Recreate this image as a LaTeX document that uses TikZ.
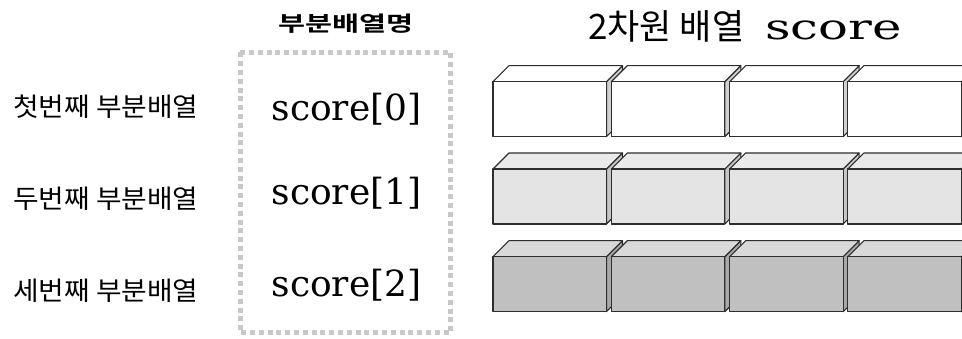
\documentclass[tikz,border=0pt]{standalone}
\usepackage{fontspec}
\newfontfamily\krfont{Noto Sans CJK KR}
\newfontfamily\krlabel[FakeStretch=1.07]{Noto Sans CJK KR}
\newfontfamily\krhead[FakeStretch=1.4,BoldFont={Noto Sans CJK KR Bold}]{Noto Sans CJK KR}
\newfontfamily\codefont{DejaVu Serif}
\newfontfamily\codewide[FakeStretch=1.42]{DejaVu Serif}

\definecolor{framegray}{HTML}{C8C8C8}
\definecolor{edge}{HTML}{2E2E2E}
\definecolor{sideA}{HTML}{D0D0D0}
\definecolor{frontB}{HTML}{E4E4E4}
\definecolor{topB}{HTML}{EAEAEA}
\definecolor{sideB}{HTML}{C6C6C6}
\definecolor{frontC}{HTML}{C0C0C0}
\definecolor{topC}{HTML}{D9D9D9}
\definecolor{sideC}{HTML}{A8A8A8}

\tikzset{
  cubeline/.style={draw=edge, line width=1.1pt, line join=round},
  rowlabel/.style={font=\krlabel\fontsize{26}{30}\selectfont, inner sep=0pt, anchor=west},
  elemname/.style={font=\codefont\fontsize{36}{40}\selectfont, inner sep=0pt, anchor=base},
  headtext/.style={font=\krhead\bfseries\fontsize{21}{24}\selectfont, inner sep=0pt},
  subframe/.style={draw=framegray, line width=5pt, dash pattern=on 5pt off 3.8pt},
}

% one element of the array drawn as a box: left x, front top y, front / top / side fills
\newcommand{\arraycell}[5]{%
  \filldraw[cubeline, fill=#5] (#1+113.5,#2) -- ++(16,-16) -- ++(0,55) -- ++(-16,16) -- cycle;
  \filldraw[cubeline, fill=#4] (#1,#2) -- ++(16,-16) -- ++(113.5,0) -- ++(-16,16) -- cycle;
  \filldraw[cubeline, fill=#3] (#1,#2) rectangle ++(113.5,55);
}

\begin{document}
\begin{tikzpicture}[x=1pt, y=-1pt]
  \useasboundingbox (0,0) rectangle (962,339);
  \clip (0,0) rectangle (962,339);
  \fill[white] (0,0) rectangle (962,339);

  % titles
  \node[headtext] (head) at (346,23.5) {부분배열명};
  \node[inner sep=0pt, anchor=base west] (title) at (588,40)
    {\krfont\fontsize{35}{40}\selectfont 2차원 배열\hspace{21pt}\codewide\fontsize{35}{40}\selectfont score};

  % row labels
  \node[rowlabel] (lab0) at (13,106.5) {첫번째 부분배열};
  \node[rowlabel] (lab1) at (13,199) {두번째 부분배열};
  \node[rowlabel] (lab2) at (13,291) {세번째 부분배열};

  % sub-array names inside the dotted frame
  \draw[subframe] (240,52.5) rectangle (450.5,333);
  \node[elemname] (s0) at (346.5,120.5) {score[0]};
  \node[elemname] (s1) at (346.5,205) {score[1]};
  \node[elemname] (s2) at (346.5,296.5) {score[2]};

  % the three rows of the two-dimensional array
  \foreach \x in {493,611.3,729.6,847.9} {
    \arraycell{\x}{81.7}{white}{white}{sideA}
  }
  \foreach \x in {493,611.3,729.6,847.9} {
    \arraycell{\x}{169}{frontB}{topB}{sideB}
  }
  \foreach \x in {493,611.3,729.6,847.9} {
    \arraycell{\x}{256.7}{frontC}{topC}{sideC}
  }
\end{tikzpicture}
\end{document}
